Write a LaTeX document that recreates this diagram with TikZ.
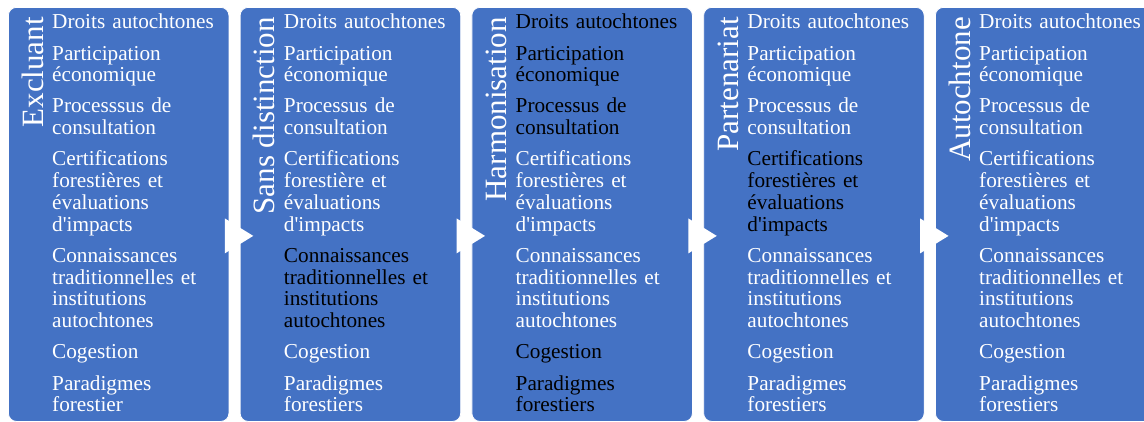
\documentclass[tikz,border=0pt]{standalone}
\usepackage{fontspec}
\setmainfont{Liberation Serif}
\usetikzlibrary{positioning}
\definecolor{boxblue}{RGB}{68,114,196}

\begin{document}
\begin{tikzpicture}[x=1pt, y=-1pt, line join=round,
        stagebox/.style={fill=boxblue, draw=white, line width=0.8pt, rounded corners=8pt,
            minimum width=220.5pt, minimum height=414pt, inner sep=0pt, anchor=north west},
        stagetitle/.style={rotate=90, anchor=base east, inner sep=0pt, text=white,
            font=\fontsize{31}{31}\selectfont},
        point/.style={anchor=base west, inner sep=0pt, text width=180pt, align=left,
            font=\fontsize{21.25}{21.8}\selectfont}]
    \clip (0,0) rectangle (1144,422);
    \foreach \i/\name in {0/Excluant, 1/Sans distinction, 2/Harmonisation, 3/Partenariat, 4/Autochtone}
    {
        \node[stagebox] (s\i) at (8+231.75*\i, 7) {};
        \node[stagetitle] (t\i) at ([shift={(35,10)}]s\i.north west) {\name};
    }
    \foreach \i/\proc/\cert/\para/\ca/\cb/\cc/\cd/\ce/\cf/\cg in {
        0/Processsus/forestières/forestier/white/white/white/white/white/white/white,
        1/Processus/forestière/forestiers/white/white/white/white/black/white/white,
        2/Processus/forestières/forestiers/black/black/black/white/white/black/black,
        3/Processus/forestières/forestiers/white/white/white/black/white/white/white,
        4/Processus/forestières/forestiers/white/white/white/white/white/white/white}
    {
        \node[point, text=\ca] (p\i-1) at ([shift={(44,22)}]s\i.north west) {Droits autochtones};
        \node[point, text=\cb] (p\i-2) at ([shift={(0,31.1)}]p\i-1.base west) {Participation\\économique};
        \node[point, text=\cc] (p\i-3) at ([shift={(0,52.9)}]p\i-2.base west) {\proc{} de\\consultation};
        \node[point, text=\cd] (p\i-4) at ([shift={(0,52.9)}]p\i-3.base west) {Certifications\\\cert{} et\\évaluations\\d\textquotesingle impacts};
        \node[point, text=\ce] (p\i-5) at ([shift={(0,96.5)}]p\i-4.base west) {Connaissances\\traditionnelles et\\institutions\\autochtones};
        \node[point, text=\cf] (p\i-6) at ([shift={(0,96.5)}]p\i-5.base west) {Cogestion};
        \node[point, text=\cg] (p\i-7) at ([shift={(0,31.1)}]p\i-6.base west) {Paradigmes\\\para};
    }
    \foreach \i/\j in {0/1, 1/2, 2/3, 3/4}
        \fill[white] ([shift={(-4.5,4)}]s\i.east) -- ([shift={(13.5,21.5)}]s\j.west) -- ([shift={(-4.5,39)}]s\i.east) -- cycle;
\end{tikzpicture}
\end{document}
